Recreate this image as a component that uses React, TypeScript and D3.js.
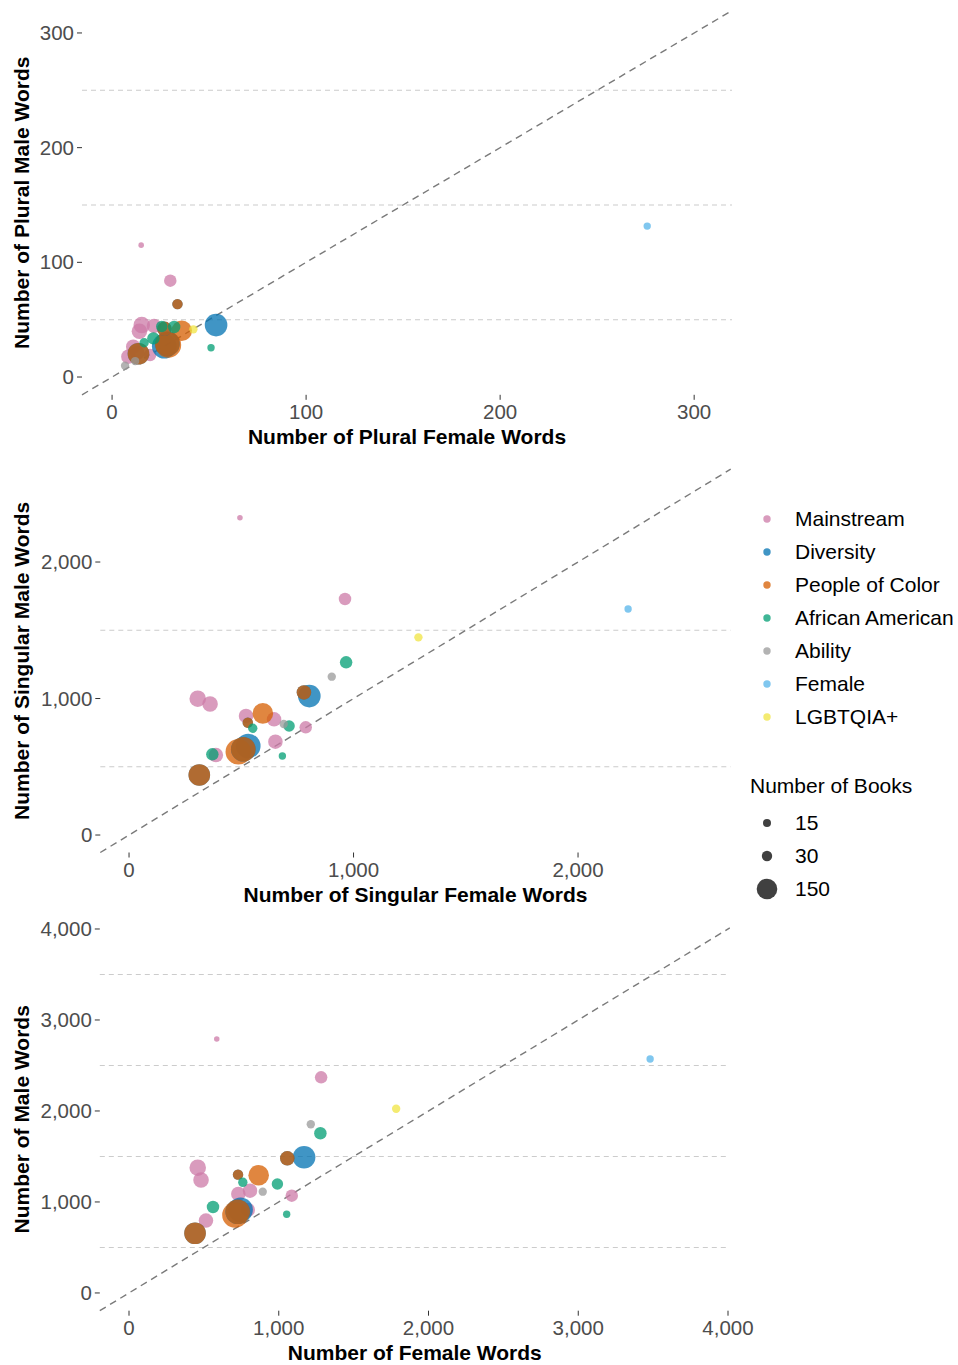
import React from 'react';
import {scaleLinear, scalePow, format} from 'd3';

// categories and their colours
const categories = ['Mainstream', 'Diversity', 'People of Color', 'African American', 'Ability', 'Female', 'LGBTQIA+'];
const categoryColors = ['#CC79A7', '#0072B2', '#D55E00', '#009E73', '#999999', '#56B4E9', '#F0E442'];

// one entry per book collection, in drawing order
const bookCategory = [
    'Mainstream', 'Mainstream', 'Mainstream', 'Mainstream', 'Mainstream', 'Mainstream', 'Mainstream', 'Mainstream', 'Mainstream',
    'Diversity', 'Diversity', 'People of Color', 'People of Color',
    'Diversity', 'People of Color', 'Diversity', 'People of Color', 'Diversity', 'People of Color', 'Diversity', 'People of Color',
    'African American', 'African American', 'African American', 'African American', 'African American',
    'Ability', 'Ability', 'Female', 'LGBTQIA+'
];
const bookCount = [5, 47, 91, 79, 67, 67, 47, 67, 67, 185, 223, 150, 244, 223, 223, 67, 67, 30, 30, 167, 167, 47, 23, 38, 12, 47, 17, 17, 12, 17];

const pluralFemale = [15, 30, 15.3, 14.1, 21.6, 10.9, 19.6, 8.4, 13, 53.6, 26.9, 35.9, 29, 28.5, 28.5, 27, 27, 33.7, 33.7, 13.6, 13.6, 32, 16.5, 25.6, 51, 21.3, 11.9, 6.7, 275.8, 41.9];
const pluralMale = [115, 84, 45.3, 40, 44.5, 26.4, 19.2, 17.7, 21, 45.3, 26.9, 40.4, 28, 28.9, 28.9, 42, 42, 63.6, 63.6, 20.3, 20.3, 43.6, 29.9, 44.1, 25.5, 33.7, 13.9, 9.8, 131.6, 41.6];
const singularFemale = [494, 962, 306, 361, 521, 646, 787, 652, 387, 803, 531, 596, 487, 509, 509, 779, 779, 529, 529, 313, 313, 967, 551, 713, 683, 371, 903, 689, 2223, 1289];
const singularMale = [2325, 1729, 999, 960, 872, 848, 789, 684, 586, 1018, 652, 891, 610, 628, 628, 1045, 1045, 823, 823, 440, 440, 1265, 782, 799, 579, 591, 1160, 813, 1656, 1448];
const totalFemale = [586, 1283, 459, 481, 730, 808, 1087, 793, 514, 1169, 745, 866, 708, 726, 726, 1057, 1057, 728, 728, 441, 441, 1278, 760, 991, 1053, 561, 1214, 893, 3480, 1784];
const totalMale = [2791, 2370, 1377, 1242, 1088, 1124, 1069, 912, 795, 1491, 915, 1293, 857, 893, 893, 1480, 1480, 1300, 1300, 656, 656, 1755, 1216, 1198, 865, 945, 1854, 1113, 2571, 2025];

// axis ticks
const pluralTicks = [0, 100, 200, 300];
const singularTicks = [0, 1000, 2000];
const totalTicks = [0, 1000, 2000, 3000, 4000];
const sizeBreaks = [15, 30, 150];

const FONT = '"Liberation Sans", Arial, sans-serif';
const ALPHA = 0.75;

const color = (c: string) => categoryColors[categories.indexOf(c)];
const size = scalePow().exponent(0.5).domain([15, 150]).range([4, 10.3]);
const fmt = format(',');

const panels = [
    {xs: pluralFemale, ys: pluralMale, ticks: pluralTicks, lim: [-15.5, 319.5], left: 82, right: 732, top: 10.6, bottom: 394.8,
        xTitle: 'Number of Plural Female Words', yTitle: 'Number of Plural Male Words'},
    {xs: singularFemale, ys: singularMale, ticks: singularTicks, lim: [-128, 2680], left: 100.3, right: 730.7, top: 469.2, bottom: 852.5,
        xTitle: 'Number of Singular Female Words', yTitle: 'Number of Singular Male Words'},
    {xs: totalFemale, ys: totalMale, ticks: totalTicks, lim: [-195, 4012], left: 99.8, right: 729.8, top: 927.9, bottom: 1310.7,
        xTitle: 'Number of Female Words', yTitle: 'Number of Male Words'},
];

const Panel = ({p}: {p: typeof panels[0]}) => {
    const x = scaleLinear().domain(p.lim).range([p.left, p.right]);
    const y = scaleLinear().domain(p.lim).range([p.bottom, p.top]);
    const grid = p.ticks.slice(1).map((t, i) => (t + p.ticks[i]) / 2);
    const midY = (p.top + p.bottom) / 2;
    return (
        <g>
            {grid.map(g => (
                <line key={g} x1={p.left} x2={p.right} y1={y(g)} y2={y(g)} stroke="#cccccc" strokeWidth={1.1} strokeDasharray="5,4"/>
            ))}
            <line x1={x(p.lim[0])} y1={y(p.lim[0])} x2={x(p.lim[1])} y2={y(p.lim[1])}
                  stroke="#7a7a7a" strokeWidth={1.4} strokeDasharray="7,5"/>
            {bookCategory.map((c, i) => (
                <circle key={i} cx={x(p.xs[i])} cy={y(p.ys[i])} r={size(bookCount[i])}
                        fill={color(c)} fillOpacity={ALPHA}/>
            ))}
            {p.ticks.map(t => (
                <g key={'y' + t}>
                    <line x1={p.left - 5} x2={p.left} y1={y(t)} y2={y(t)} stroke="#333" strokeWidth={1}/>
                    <text x={p.left - 8} y={y(t) + 7} textAnchor="end" fontSize={20.5} fill="#4d4d4d">{fmt(t)}</text>
                </g>
            ))}
            {p.ticks.map(t => (
                <g key={'x' + t}>
                    <line x1={x(t)} x2={x(t)} y1={p.bottom} y2={p.bottom + 5} stroke="#333" strokeWidth={1}/>
                    <text x={x(t)} y={p.bottom + 24} textAnchor="middle" fontSize={20.5} fill="#4d4d4d">{fmt(t)}</text>
                </g>
            ))}
            <text x={(p.left + p.right) / 2} y={p.bottom + 49} textAnchor="middle" fontSize={21} fontWeight="bold">{p.xTitle}</text>
            <text transform={`translate(29,${midY}) rotate(-90)`} textAnchor="middle" fontSize={21} fontWeight="bold">{p.yTitle}</text>
        </g>
    );
};

const App = () => {
    return (
        <svg width={958} height={1365} style={{position: 'absolute', left: 0, top: 0}} fontFamily={FONT}>
            <rect width={958} height={1365} fill="#fff"/>
            {panels.map((p, i) => <Panel key={i} p={p}/>)}
            <g>
                {categories.map((c, i) => (
                    <g key={c} transform={`translate(767,${519 + i * 33})`}>
                        <circle r={3.7} fill={categoryColors[i]} fillOpacity={ALPHA}/>
                        <text x={28} y={7} fontSize={21}>{c}</text>
                    </g>
                ))}
                <text x={750} y={793} fontSize={21}>Number of Books</text>
                {sizeBreaks.map((s, i) => (
                    <g key={s} transform={`translate(767,${823 + i * 33})`}>
                        <circle r={size(s)} fill="#000" fillOpacity={ALPHA}/>
                        <text x={28} y={7} fontSize={21}>{s}</text>
                    </g>
                ))}
            </g>
        </svg>
    );
};

export default App;
